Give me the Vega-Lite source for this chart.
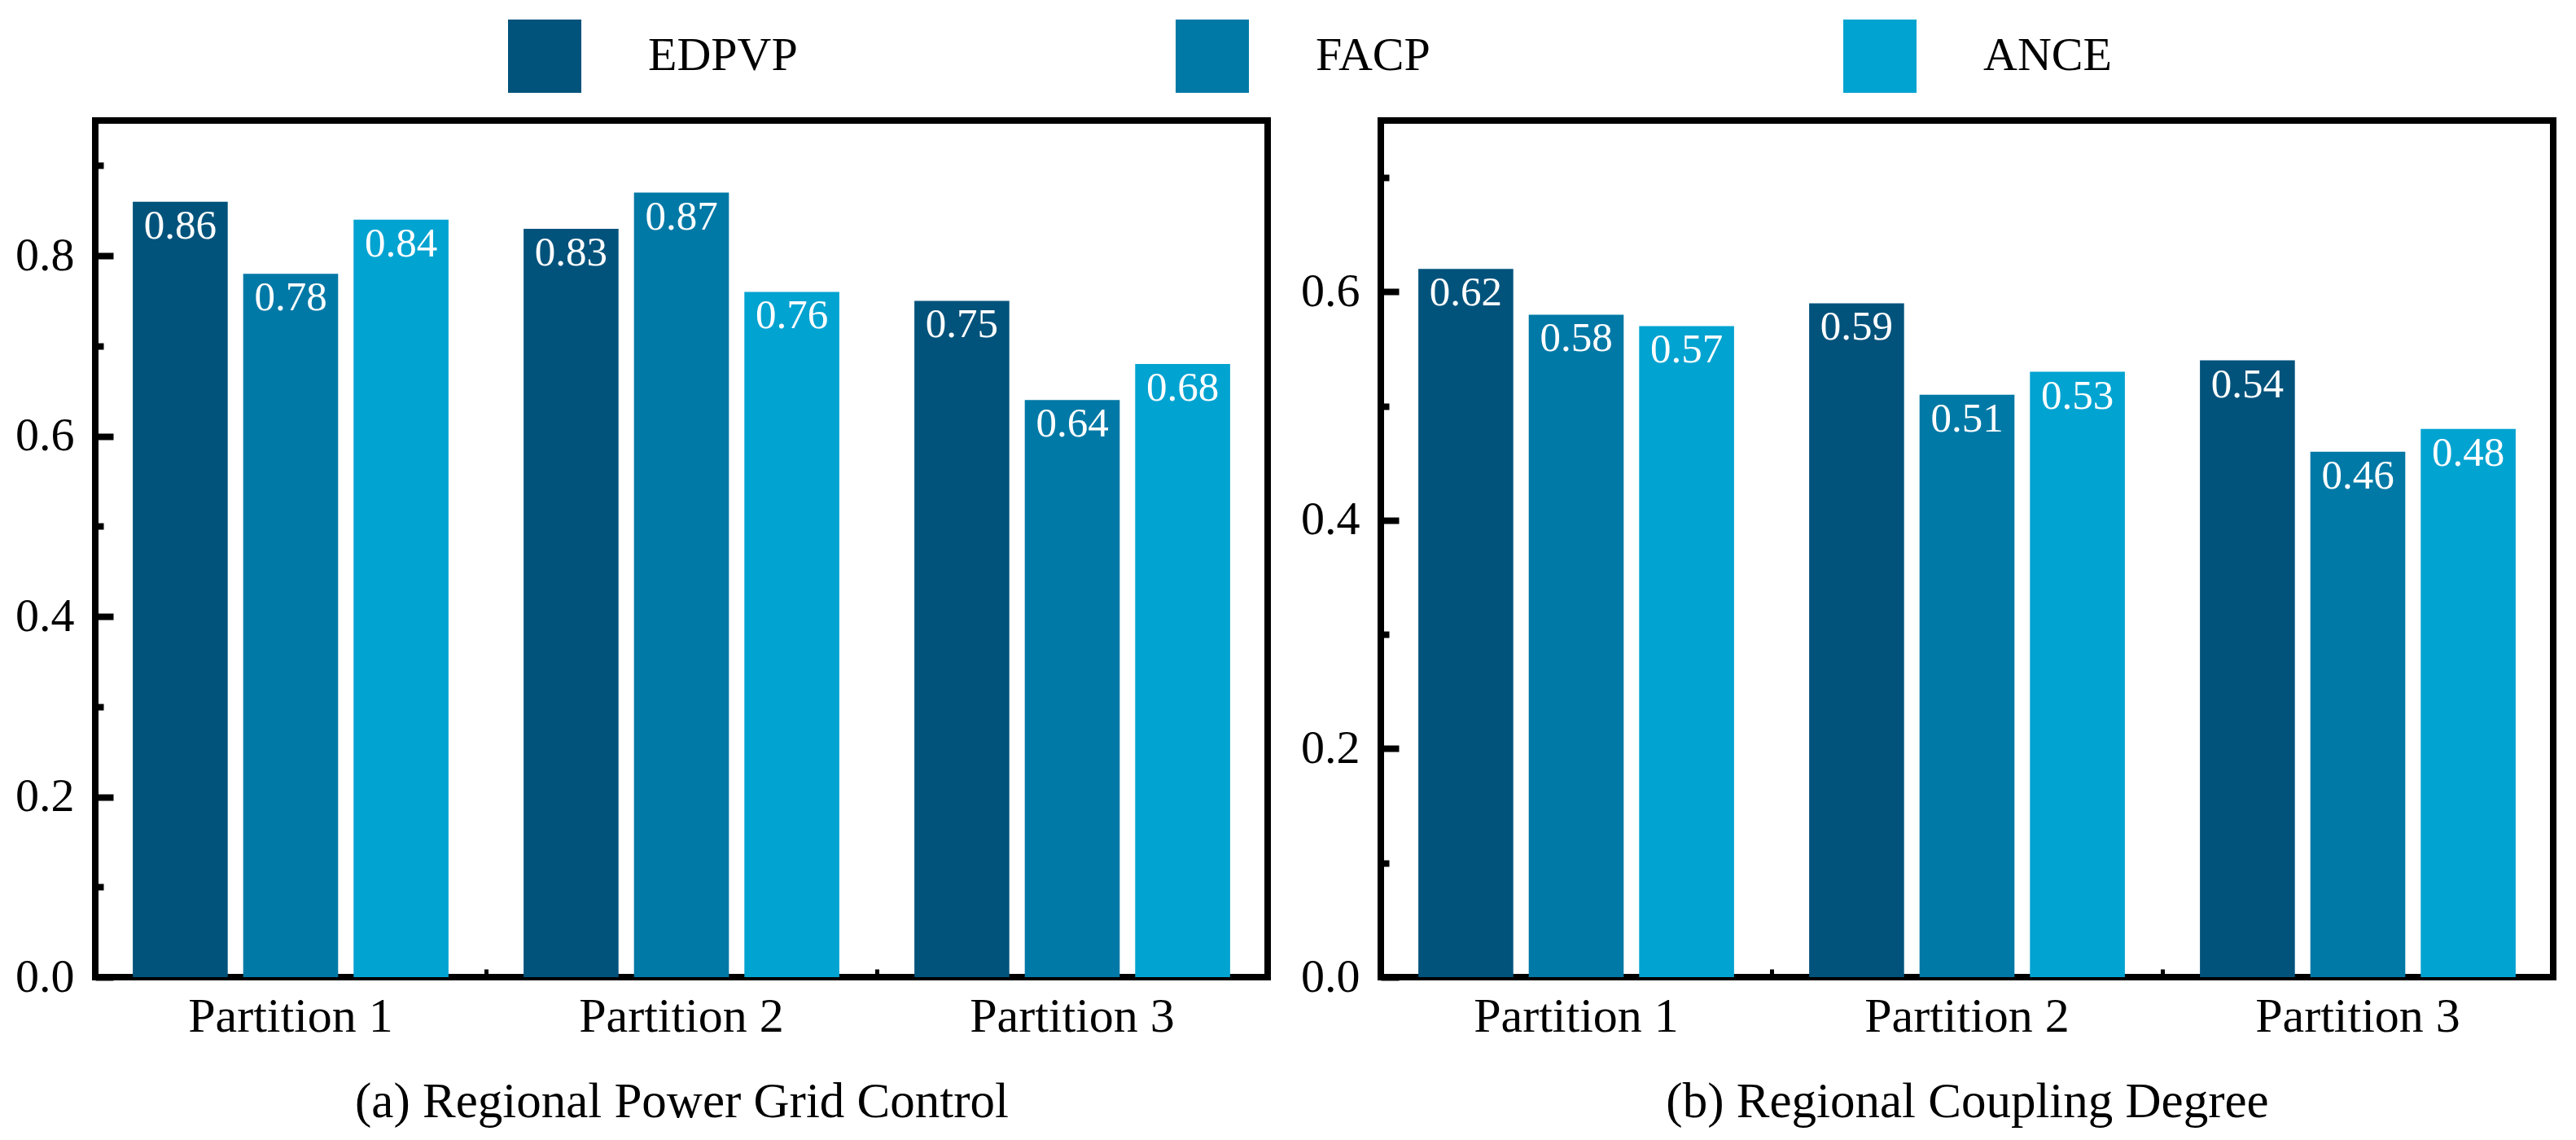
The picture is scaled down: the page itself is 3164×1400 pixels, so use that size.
{
  "$schema": "https://vega.github.io/schema/vega-lite/v6.json",
  "padding": {"left": 14, "top": 24, "right": 20, "bottom": 10},
  "background": "white",
  "config": {
    "font": "Liberation Serif",
    "view": {"stroke": "black", "strokeWidth": 8},
    "axis": {"labelColor": "black", "titleColor": "black", "tickColor": "black", "labelFont": "Liberation Serif", "titleFont": "Liberation Serif", "titleFontWeight": "normal", "grid": false, "domain": false, "labelLimit": 0},
    "legend": {"labelFont": "Liberation Serif", "labelColor": "black"}
  },
  "datasets": {
    "a": [
      {"partition": "Partition 1", "method": "EDPVP", "value": 0.86},
      {"partition": "Partition 1", "method": "FACP", "value": 0.78},
      {"partition": "Partition 1", "method": "ANCE", "value": 0.84},
      {"partition": "Partition 2", "method": "EDPVP", "value": 0.83},
      {"partition": "Partition 2", "method": "FACP", "value": 0.87},
      {"partition": "Partition 2", "method": "ANCE", "value": 0.76},
      {"partition": "Partition 3", "method": "EDPVP", "value": 0.75},
      {"partition": "Partition 3", "method": "FACP", "value": 0.64},
      {"partition": "Partition 3", "method": "ANCE", "value": 0.68}
    ],
    "b": [
      {"partition": "Partition 1", "method": "EDPVP", "value": 0.62},
      {"partition": "Partition 1", "method": "FACP", "value": 0.58},
      {"partition": "Partition 1", "method": "ANCE", "value": 0.57},
      {"partition": "Partition 2", "method": "EDPVP", "value": 0.59},
      {"partition": "Partition 2", "method": "FACP", "value": 0.51},
      {"partition": "Partition 2", "method": "ANCE", "value": 0.53},
      {"partition": "Partition 3", "method": "EDPVP", "value": 0.54},
      {"partition": "Partition 3", "method": "FACP", "value": 0.46},
      {"partition": "Partition 3", "method": "ANCE", "value": 0.48}
    ]
  },
  "spacing": 32,
  "hconcat": [
    {
      "width": 1440,
      "height": 1052,
      "data": {"name": "a"},
      "layer": [
        {
          "mark": {"type": "bar"},
          "encoding": {
            "x": {"field": "partition", "type": "nominal", "scale": {"paddingInner": 0, "paddingOuter": 0},
              "axis": {"orient": "bottom", "title": "(a) Regional Power Grid Control", "labelAngle": 0, "tickSize": -21, "tickWidth": 5, "labelPadding": 40, "titlePadding": 45, "labelFontSize": 60, "titleFontSize": 61}},
            "xOffset": {"field": "method", "type": "nominal", "scale": {"domain": ["EDPVP", "FACP", "ANCE"], "paddingInner": 0.14, "paddingOuter": 0.34}},
            "y": {"field": "value", "type": "quantitative", "scale": {"domain": [0, 0.95], "nice": false},
              "axis": {"orient": "left", "values": [0, 0.2, 0.4, 0.6, 0.8], "format": ".1f", "tickSize": -22, "tickWidth": 8, "labelPadding": 48, "labelFontSize": 58, "title": null}},
            "color": {"field": "method", "type": "nominal",
              "scale": {"domain": ["EDPVP", "FACP", "ANCE"], "range": ["#02537c", "#0179a6", "#01a3d1"]},
              "legend": {"orient": "none", "legendX": 507, "legendY": -124, "direction": "horizontal", "columns": 3, "gridAlign": "all", "title": null, "symbolType": "square", "symbolSize": 8100, "symbolStrokeWidth": 0, "labelFontSize": 58, "labelOffset": 82, "columnPadding": 464, "labelLimit": 0}}
          }
        },
        {
          "mark": {"type": "text", "color": "white", "dy": 30, "fontSize": 51, "baseline": "middle", "font": "Liberation Serif"},
          "encoding": {
            "x": {"field": "partition", "type": "nominal", "axis": null},
            "xOffset": {"field": "method", "type": "nominal"},
            "y": {"field": "value", "type": "quantitative", "axis": null},
            "text": {"field": "value", "type": "quantitative", "format": ".2f"}
          }
        },
        {
          "mark": {"type": "point", "opacity": 0},
          "encoding": {
            "x": {"field": "partition", "type": "nominal", "axis": {"orient": "bottom", "bandPosition": 0, "tickSize": -10, "tickWidth": 5, "labels": false, "title": null}},
            "y": {"field": "value", "type": "quantitative", "axis": {"orient": "left", "values": [0.1, 0.3, 0.5, 0.7, 0.9], "tickSize": -10, "tickWidth": 8, "labels": false, "title": null}}
          }
        }
      ],
      "resolve": {"axis": {"x": "independent", "y": "independent"}}
    },
    {
      "width": 1440,
      "height": 1052,
      "data": {"name": "b"},
      "layer": [
        {
          "mark": {"type": "bar"},
          "encoding": {
            "x": {"field": "partition", "type": "nominal", "scale": {"paddingInner": 0, "paddingOuter": 0},
              "axis": {"orient": "bottom", "title": "(b) Regional Coupling Degree", "labelAngle": 0, "tickSize": -21, "tickWidth": 5, "labelPadding": 40, "titlePadding": 45, "labelFontSize": 60, "titleFontSize": 61}},
            "xOffset": {"field": "method", "type": "nominal", "scale": {"domain": ["EDPVP", "FACP", "ANCE"], "paddingInner": 0.14, "paddingOuter": 0.34}},
            "y": {"field": "value", "type": "quantitative", "scale": {"domain": [0, 0.75], "nice": false},
              "axis": {"orient": "left", "values": [0, 0.2, 0.4, 0.6], "format": ".1f", "tickSize": -22, "tickWidth": 8, "labelPadding": 48, "labelFontSize": 58, "title": null}},
            "color": {"field": "method", "type": "nominal",
              "scale": {"domain": ["EDPVP", "FACP", "ANCE"], "range": ["#02537c", "#0179a6", "#01a3d1"]},
              "legend": {"orient": "none", "legendX": 507, "legendY": -124, "direction": "horizontal", "columns": 3, "gridAlign": "all", "title": null, "symbolType": "square", "symbolSize": 8100, "symbolStrokeWidth": 0, "labelFontSize": 58, "labelOffset": 82, "columnPadding": 464, "labelLimit": 0}}
          }
        },
        {
          "mark": {"type": "text", "color": "white", "dy": 30, "fontSize": 51, "baseline": "middle", "font": "Liberation Serif"},
          "encoding": {
            "x": {"field": "partition", "type": "nominal", "axis": null},
            "xOffset": {"field": "method", "type": "nominal"},
            "y": {"field": "value", "type": "quantitative", "axis": null},
            "text": {"field": "value", "type": "quantitative", "format": ".2f"}
          }
        },
        {
          "mark": {"type": "point", "opacity": 0},
          "encoding": {
            "x": {"field": "partition", "type": "nominal", "axis": {"orient": "bottom", "bandPosition": 0, "tickSize": -10, "tickWidth": 5, "labels": false, "title": null}},
            "y": {"field": "value", "type": "quantitative", "axis": {"orient": "left", "values": [0.1, 0.3, 0.5, 0.7], "tickSize": -10, "tickWidth": 8, "labels": false, "title": null}}
          }
        }
      ],
      "resolve": {"axis": {"x": "independent", "y": "independent"}}
    }
  ],
  "resolve": {"scale": {"color": "shared"}}
}
